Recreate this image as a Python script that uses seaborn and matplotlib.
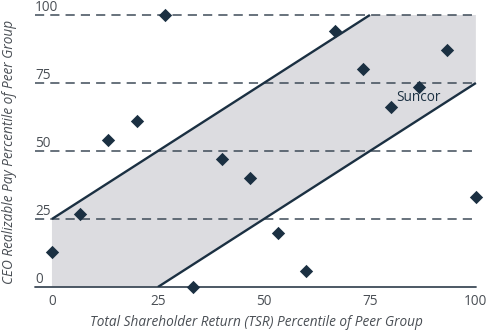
import matplotlib
matplotlib.use("Agg")
import matplotlib.pyplot as plt
import seaborn as sns
import pandas as pd

# Peer-group percentiles: TSR (x) vs CEO realizable pay (y)
tsr_pct = [0, 6.7, 13.3, 20, 26.7, 33.3, 40, 46.7, 53.3, 60, 66.7, 73.3, 80, 86.7, 93.3, 100]
pay_pct = [13, 27, 54, 61, 100, 0, 47, 40, 20, 6, 94, 80, 66, 73.5, 87, 33]
companies = ["Peer"] * 16
companies[12] = "Suncor"

# Alignment band: pay within +/- 25 percentile points of TSR
band_x = [0, 0, 75, 100, 100, 25]
band_y = [0, 25, 100, 100, 75, 0]
upper_x, upper_y = [0, 75], [25, 100]
lower_x, lower_y = [25, 100], [0, 75]

y_ticks = [0, 25, 50, 75, 100]
x_ticks = [0, 25, 50, 75, 100]

sns.set_theme(style="white")
plt.rcParams["font.family"] = ["Open Sans", "DejaVu Sans"]

navy = "#1b3042"
text_c = "#4a4f55"
fs = 9.8

df = pd.DataFrame({"tsr": tsr_pct, "pay": pay_pct, "company": companies})

fig = plt.figure(figsize=(4.87, 3.31), dpi=100)
ax = fig.add_axes([35 / 487, 44 / 331, 443 / 487, 275 / 331])
ax.set_xlim(-4.0, 100.5)
ax.set_ylim(0, 101.1)

ax.fill(band_x, band_y, color="#dcdce0", lw=0, zorder=1)
ax.plot(upper_x, upper_y, color=navy, lw=1.7, zorder=3, solid_capstyle="butt")
ax.plot(lower_x, lower_y, color=navy, lw=1.7, zorder=3, solid_capstyle="butt")

for v in y_ticks:
    if v == 0:
        ax.plot([-4, 100], [0, 0], color="#3e4b58", lw=1.3, zorder=2, clip_on=False)
    else:
        ax.plot([-4, 100], [v, v], color="#3e4b58", lw=1.1, ls=(0, (6, 4)), zorder=2)
    ax.text(-4, v + 1.3, str(v), ha="left", va="baseline", fontsize=fs, color=text_c)

sns.scatterplot(data=df, x="tsr", y="pay", marker="D", s=46, color=navy,
                edgecolor=navy, linewidth=0, ax=ax, zorder=4, clip_on=False, legend=False)

sx, sy = df.loc[df.company == "Suncor", ["tsr", "pay"]].iloc[0]
ax.text(sx + 1.3, sy + 1.0, "Suncor", fontsize=fs, color=navy, ha="left", va="bottom", zorder=5)

ax.set_xticks(x_ticks)
ax.set_xticklabels([str(v) for v in x_ticks], fontsize=fs, color=text_c)
ax.set_yticks([])
ax.tick_params(axis="x", length=0, pad=5)
for s in ax.spines.values():
    s.set_visible(False)

ax.set_xlabel("Total Shareholder Return (TSR) Percentile of Peer Group",
              fontsize=fs, style="italic", color=text_c, labelpad=4)
ax.set_ylabel("")
fig.text(10 / 487, 1 - 152 / 331, "CEO Realizable Pay Percentile of Peer Group",
         rotation=90, ha="center", va="center", fontsize=fs, style="italic", color=text_c)

fig.savefig("out.png", dpi=100)
